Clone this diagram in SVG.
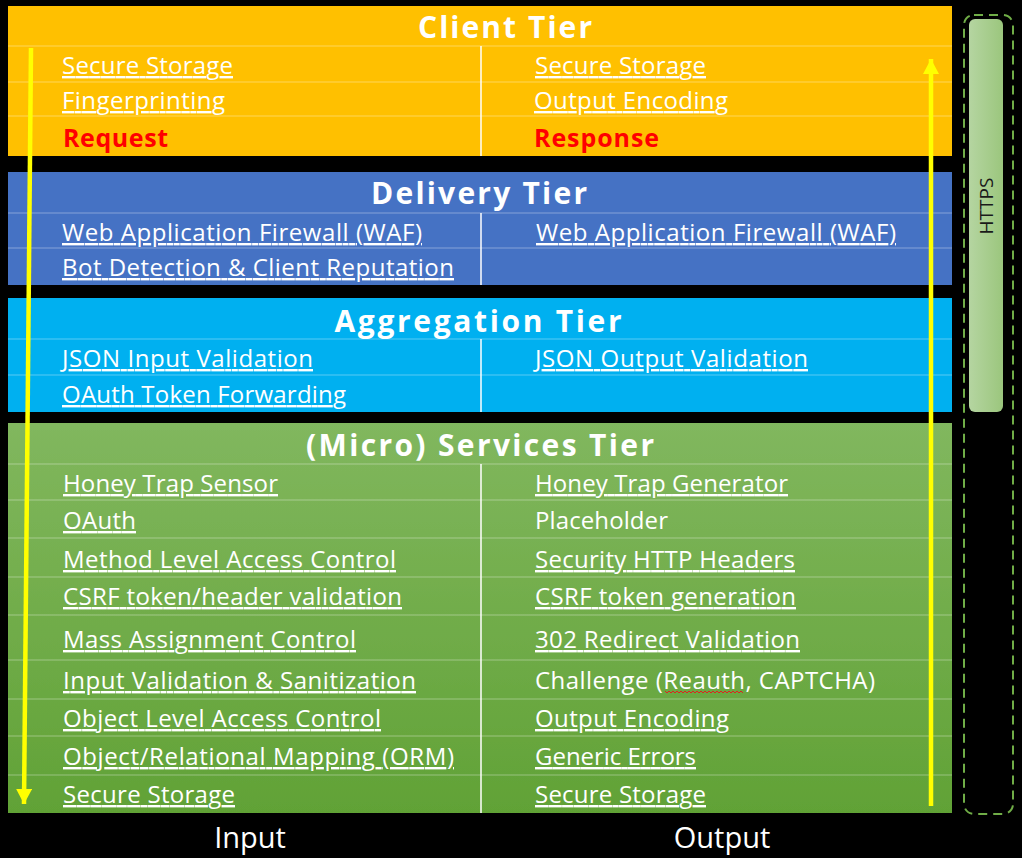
<svg xmlns="http://www.w3.org/2000/svg" width="1022" height="858" viewBox="0 0 1022 858">
  <style>
    .title { font-family: "Open Sans", "Noto Sans", sans-serif; font-weight: bold; font-size: 30px; fill: #ffffff; text-anchor: middle; }
    .item { font-family: "Open Sans", "Noto Sans", sans-serif; font-size: 24px; fill: #ffffff; text-decoration: underline; text-decoration-thickness: 1.5px; }
    .plain { font-family: "Open Sans", "Noto Sans", sans-serif; font-size: 24px; fill: #ffffff; }
    .flow { font-family: "Open Sans", "Noto Sans", sans-serif; font-weight: bold; font-size: 25px; fill: #ff0000; }
    .axis { font-family: "Open Sans", "Noto Sans", sans-serif; font-size: 29px; fill: #ffffff; text-anchor: middle; }
    .grid { stroke: #ffffff; stroke-opacity: 0.35; stroke-width: 1; }
    .divider { stroke: #ffffff; stroke-opacity: 0.75; stroke-width: 2; }
    .tier { filter: url(#edge); }
    .arrow { stroke: #ffff00; stroke-width: 4.5; fill: none; marker-end: url(#head); }
  </style>
  <defs>
    <marker id="head" markerUnits="userSpaceOnUse" markerWidth="16" markerHeight="16" refX="15" refY="8" orient="auto">
      <path d="M0,0 L15,8 L0,16 Z" fill="#ffff00"/>
    </marker>
    <linearGradient id="svcFill" x1="0" y1="0" x2="0" y2="1">
      <stop offset="0" stop-color="#81b75e"/>
      <stop offset="1" stop-color="#61a236"/>
    </linearGradient>
    <linearGradient id="httpsFill" x1="0" y1="0" x2="1" y2="0">
      <stop offset="0" stop-color="#b5d5a1"/>
      <stop offset="1" stop-color="#9bc67d"/>
    </linearGradient>
    <filter id="edge" x="-2%" y="-5%" width="104%" height="110%">
      <feDropShadow dx="0" dy="2" stdDeviation="2" flood-color="#000000" flood-opacity="0.6"/>
    </filter>
  </defs>

  <rect x="0" y="0" width="1022" height="858" fill="#000000"/>

  <!-- Client tier -->
  <g id="client-tier">
    <rect class="tier" x="8" y="6" width="944" height="150" fill="#FFC000"/>
    <line class="grid" x1="8" y1="46" x2="952" y2="46"/>
    <line class="grid" x1="8" y1="82" x2="952" y2="82"/>
    <line class="grid" x1="8" y1="116" x2="952" y2="116"/>
    <line class="divider" x1="481" y1="46" x2="481" y2="156"/>
    <text class="title" x="505" y="38" textLength="174">Client Tier</text>
    <text class="item" x="62" y="74" textLength="171">Secure Storage</text>
    <text class="item" x="62" y="109" textLength="163">Fingerprinting</text>
    <text class="flow" x="63" y="147" textLength="105">Request</text>
    <text class="item" x="535" y="74" textLength="171">Secure Storage</text>
    <text class="item" x="534" y="109" textLength="194">Output Encoding</text>
    <text class="flow" x="534" y="147" textLength="125">Response</text>
  </g>

  <!-- Delivery tier -->
  <g id="delivery-tier">
    <rect class="tier" x="8" y="172" width="944" height="113" fill="#4472C4"/>
    <line class="grid" x1="8" y1="213" x2="952" y2="213"/>
    <line class="grid" x1="8" y1="248" x2="952" y2="248"/>
    <line class="divider" x1="481" y1="213" x2="481" y2="285"/>
    <text class="title" x="479" y="204" textLength="216">Delivery Tier</text>
    <text class="item" x="62" y="241" textLength="360">Web Application Firewall (WAF)</text>
    <text class="item" x="62" y="276" textLength="392">Bot Detection &amp; Client Reputation</text>
    <text class="item" x="536" y="241" textLength="360">Web Application Firewall (WAF)</text>
  </g>

  <!-- Aggregation tier -->
  <g id="aggregation-tier">
    <rect class="tier" x="8" y="298" width="944" height="114" fill="#00B0F0"/>
    <line class="grid" x1="8" y1="339" x2="952" y2="339"/>
    <line class="grid" x1="8" y1="375" x2="952" y2="375"/>
    <line class="divider" x1="481" y1="339" x2="481" y2="412"/>
    <text class="title" x="478" y="332" textLength="287">Aggregation Tier</text>
    <text class="item" x="62" y="367" textLength="251">JSON Input Validation</text>
    <text class="item" x="62" y="403" textLength="284">OAuth Token Forwarding</text>
    <text class="item" x="535" y="367" textLength="273">JSON Output Validation</text>
  </g>

  <!-- (Micro) services tier -->
  <g id="services-tier">
    <rect class="tier" x="8" y="423" width="944" height="390" fill="url(#svcFill)"/>
    <line class="grid" x1="8" y1="464" x2="952" y2="464"/>
    <line class="grid" x1="8" y1="500" x2="952" y2="500"/>
    <line class="grid" x1="8" y1="538" x2="952" y2="538"/>
    <line class="grid" x1="8" y1="577" x2="952" y2="577"/>
    <line class="grid" x1="8" y1="615" x2="952" y2="615"/>
    <line class="grid" x1="8" y1="660" x2="952" y2="660"/>
    <line class="grid" x1="8" y1="699" x2="952" y2="699"/>
    <line class="grid" x1="8" y1="736" x2="952" y2="736"/>
    <line class="grid" x1="8" y1="775" x2="952" y2="775"/>
    <line class="divider" x1="481" y1="464" x2="481" y2="813"/>
    <text class="title" x="480" y="456" textLength="348">(Micro) Services Tier</text>

    <text class="item" x="63" y="492" textLength="215">Honey Trap Sensor</text>
    <text class="item" x="63" y="529" textLength="73">OAuth</text>
    <text class="item" x="63" y="568" textLength="333">Method Level Access Control</text>
    <text class="item" x="63" y="605" textLength="339">CSRF token/header validation</text>
    <text class="item" x="63" y="648" textLength="293">Mass Assignment Control</text>
    <text class="item" x="63" y="689" textLength="353">Input Validation &amp; Sanitization</text>
    <text class="item" x="63" y="727" textLength="318">Object Level Access Control</text>
    <text class="item" x="63" y="765" textLength="391">Object/Relational Mapping (ORM)</text>
    <text class="item" x="63" y="803" textLength="172">Secure Storage</text>

    <text class="item" x="535" y="492" textLength="253">Honey Trap Generator</text>
    <text class="plain" x="535" y="529" textLength="133">Placeholder</text>
    <text class="item" x="535" y="568" textLength="260">Security HTTP Headers</text>
    <text class="item" x="535" y="605" textLength="261">CSRF token generation</text>
    <text class="item" x="535" y="648" textLength="265">302 Redirect Validation</text>
    <text class="plain" x="535" y="689" textLength="340">Challenge (Reauth, CAPTCHA)</text>
    <polyline points="665,691 667,693 669,691 671,693 673,691 675,693 677,691 679,693 681,691 683,693 685,691 687,693 689,691 691,693 693,691 695,693 697,691 699,693 701,691 703,693 705,691 707,693 709,691 711,693 713,691 715,693 717,691 719,693 721,691 723,693 725,691 727,693 729,691 731,693 733,691 735,693 737,691 739,693 741,691 743,693" fill="none" stroke="#e02020" stroke-width="1"/>
    <text class="item" x="535" y="727" textLength="194">Output Encoding</text>
    <text class="item" x="535" y="765" textLength="161">Generic Errors</text>
    <text class="item" x="535" y="803" textLength="171">Secure Storage</text>
  </g>

  <!-- HTTPS transport band -->
  <g id="https">
    <rect x="964" y="15" width="49" height="799" rx="10" fill="none" stroke="#70AD47" stroke-width="2" stroke-dasharray="9 6"/>
    <rect x="969" y="19" width="34" height="393" rx="6" fill="url(#httpsFill)"/>
    <text x="0" y="0" transform="translate(993,206) rotate(-90)" text-anchor="middle" font-family="'Open Sans', 'Noto Sans', sans-serif" font-size="19" fill="#1a1a1a">HTTPS</text>
  </g>

  <!-- Request and response flow arrows -->
  <g id="connectors">
    <line class="arrow" x1="31" y1="48" x2="24" y2="804"/>
    <line class="arrow" x1="931" y1="806" x2="931" y2="59"/>
  </g>

  <g id="axis-labels">
    <text class="axis" x="250" y="848">Input</text>
    <text class="axis" x="722" y="848">Output</text>
  </g>
</svg>
